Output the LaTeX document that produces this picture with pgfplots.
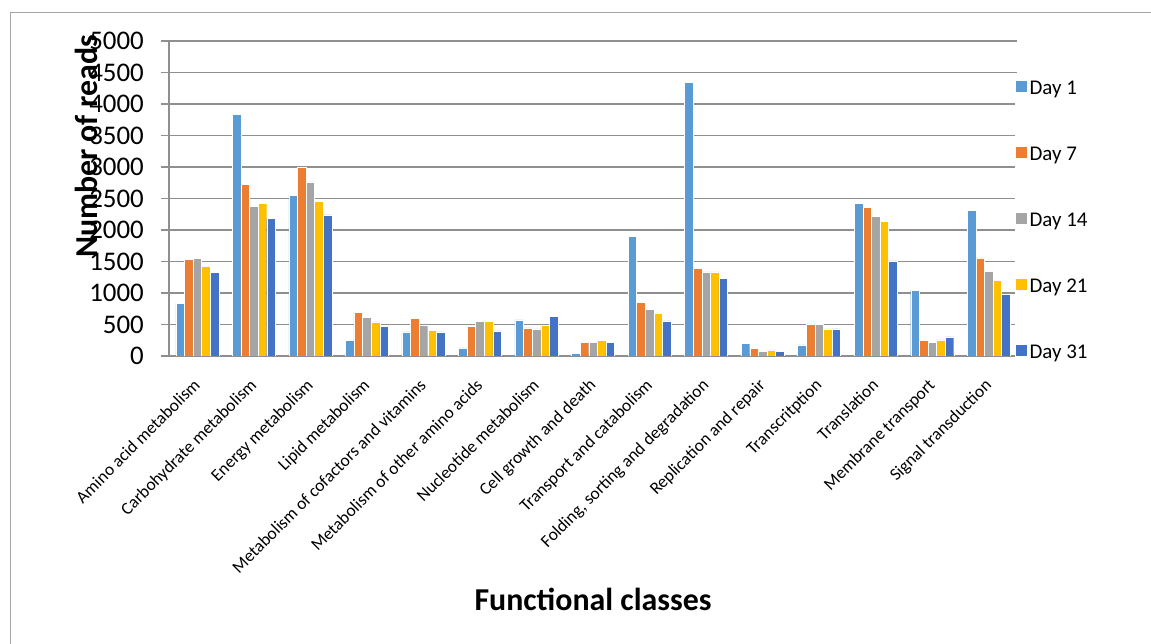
\documentclass[border=0pt]{standalone}
\usepackage{pgfplots}
\pgfplotsset{compat=1.18}
\usepackage{fontspec}
\setmainfont{Carlito}
\definecolor{c1}{HTML}{5B9BD5}
\definecolor{c2}{HTML}{ED7D31}
\definecolor{c3}{HTML}{A5A5A5}
\definecolor{c4}{HTML}{FFC000}
\definecolor{c5}{HTML}{4472C4}
\definecolor{gridc}{HTML}{8F8F8F}
\definecolor{framec}{HTML}{A6A6A6}
\begin{document}
\begin{tikzpicture}
\path[use as bounding box] (0bp,0bp) rectangle (1151bp,644bp);
\draw[framec, line width=1bp] (10bp,0bp) -- (10bp,631bp) -- (1151bp,631bp);
\begin{axis}[
  at={(169bp,288bp)}, anchor=south west,
  width=848bp, height=315bp, scale only axis,
  xmin=-0.5, xmax=14.5, ymin=0, ymax=5000,
  ybar=0pt, bar width=8.6bp,
  axis x line*=bottom, axis y line*=left,
  axis line style={gridc, line width=1.2bp, -},
  ytick={0,500,...,5000},
  ymajorgrids, grid style={gridc, line width=1.1bp},
  major tick length=8bp,
  tick align=outside,
  xtick={0,...,14},
  x tick style={draw=none},
  minor xtick={-0.5,0.5,...,14.5},
  minor x tick style={gridc, line width=1bp},
  minor tick length=5bp,
  y tick style={gridc, line width=1.1bp},
  xticklabels={Amino acid metabolism,Carbohydrate metabolism,Energy metabolism,Lipid metabolism,Metabolism of cofactors and vitamins,Metabolism of other amino acids,Nucleotide metabolism,Cell growth and death,Transport and catabolism,{Folding, sorting and degradation},Replication and repair,Transcritption,Translation,Membrane transport,Signal transduction},
  x tick label style={rotate=45, anchor=north east, font=\fontsize{17.5}{20}\selectfont, inner sep=1bp, xshift=-12bp, yshift=-5bp},
  y tick label style={font=\fontsize{27}{31}\selectfont, inner sep=2bp, xshift=-15bp},
  /pgf/number format/assume math mode=true,
  /pgf/number format/1000 sep={},
  scaled y ticks=false,
  ylabel={\textbf{Number of reads}},
  every axis y label/.style={at={(rel axis cs:0,0.665)}, xshift=-83bp, rotate=90, anchor=center, font=\fontsize{32}{36}\selectfont},
  xlabel={\textbf{Functional classes}},
  xlabel style={font=\fontsize{32}{36}\selectfont, at={(rel axis cs:0.5,0)}, anchor=center, yshift=-243bp},
  legend style={draw=none, at={(rel axis cs:1,0.885)}, anchor=north west, xshift=-2bp,
    font=\fontsize{21}{24}\selectfont, row sep=44bp, inner sep=0pt,
    nodes={inner sep=2bp, text height=15bp, text depth=3bp, xshift=2bp}},
  legend cell align=left,
  legend image code/.code={\fill[#1] (0bp,-4bp) rectangle (12bp,8bp);},
  every axis plot/.append style={draw=white, line width=0.4bp},
]
\addplot[fill=c1] coordinates {(0,840) (1,3836) (2,2550) (3,250) (4,383) (5,128) (6,574) (7,43) (8,1897) (9,4341) (10,202) (11,175) (12,2423) (13,1041) (14,2311)};
\addplot[fill=c2] coordinates {(0,1530) (1,2726) (2,2991) (3,696) (4,595) (5,468) (6,446) (7,218) (8,850) (9,1387) (10,117) (11,510) (12,2359) (13,250) (14,1557)};
\addplot[fill=c3] coordinates {(0,1546) (1,2380) (2,2763) (3,611) (4,494) (5,547) (6,430) (7,213) (8,744) (9,1334) (10,74) (11,505) (12,2216) (13,213) (14,1339)};
\addplot[fill=c4] coordinates {(0,1419) (1,2423) (2,2450) (3,542) (4,409) (5,547) (6,489) (7,244) (8,675) (9,1334) (10,96) (11,430) (12,2136) (13,255) (14,1206)};
\addplot[fill=c5] coordinates {(0,1328) (1,2184) (2,2242) (3,468) (4,383) (5,398) (6,627) (7,213) (8,558) (9,1233) (10,74) (11,430) (12,1509) (13,303) (14,983)};
\legend{Day 1,Day 7,Day 14,Day 21,Day 31}
\end{axis}
\end{tikzpicture}
\end{document}
